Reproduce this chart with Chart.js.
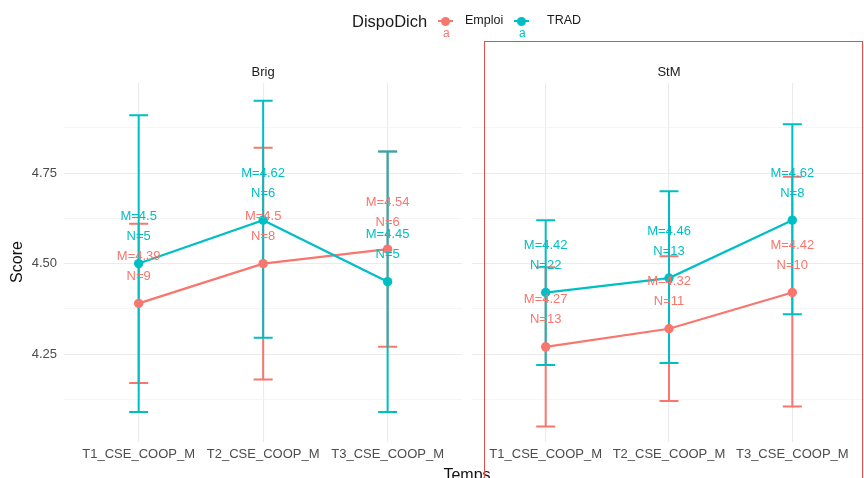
<!DOCTYPE html>
<html>
<head>
<meta charset="utf-8">
<script src="https://cdn.jsdelivr.net/npm/chart.js@4.4.0/dist/chart.umd.min.js"></script>
<style>
  html, body { margin: 0; padding: 0; width: 864px; height: 478px; overflow: hidden; background: #fff; }
  body { position: relative; font-family: "Liberation Sans", Arial, sans-serif; }
  canvas { position: absolute; top: 0; }
  .abs { position: absolute; white-space: nowrap; }
  #legendTitle { left: 352px; top: 12px; font-size: 16.5px; line-height: 18px; color: #1a1a1a; }
  .keyLine { position: absolute; height: 2px; width: 15px; top: 20px; }
  .keyDot { position: absolute; width: 9px; height: 9px; border-radius: 50%; top: 16.5px; }
  .keyA { position: absolute; top: 26px; font-size: 12px; line-height: 14px; }
  .legendText { top: 13px; font-size: 12.5px; line-height: 14px; color: #1a1a1a; }
  #xTitle { left: 417px; width: 100px; text-align: center; top: 466px; font-size: 16px; line-height: 18px; color: #111; }
  #frame { position: absolute; left: 484px; top: 41px; width: 379px; height: 460px; box-sizing: border-box; border: 1.5px solid #e3504b; }
</style>
</head>
<body>
<canvas id="brigChart" width="467" height="478" style="left:0px"></canvas>
<canvas id="stmChart" width="404" height="478" style="left:467px"></canvas>

<div id="legendTitle" class="abs">DispoDich</div>
<div class="keyLine" style="left:438px;background:#F8766D"></div>
<div class="keyDot" style="left:440.5px;background:#F8766D"></div>
<div class="keyA" style="left:443px;color:#F8766D">a</div>
<div class="abs legendText" style="left:465px">Emploi</div>
<div class="keyLine" style="left:514px;background:#00BFC4"></div>
<div class="keyDot" style="left:516.5px;background:#00BFC4"></div>
<div class="keyA" style="left:519px;color:#00BFC4">a</div>
<div class="abs legendText" style="left:547px">TRAD</div>

<div id="xTitle" class="abs">Temps</div>
<div id="frame"></div>

<script>
// Time points on the x axis and the two facet panels
const categories = ['T1_CSE_COOP_M', 'T2_CSE_COOP_M', 'T3_CSE_COOP_M'];
const panels = ['Brig', 'StM'];
const groups = ['Emploi', 'TRAD'];
const groupColors = ['#F8766D', '#00BFC4'];

// Score axis ticks (major with labels, minor grid only)
const yMajorTicks = [4.25, 4.5, 4.75];
const yTickLabels = ['4.25', '4.50', '4.75'];
const yMinorTicks = [4.125, 4.375, 4.625, 4.875];

// Brig panel: means, group sizes and error-bar limits
const brigEmploiMean = [4.39, 4.5, 4.54];
const brigEmploiN = [9, 8, 6];
const brigEmploiLow = [4.17, 4.18, 4.27];
const brigEmploiHigh = [4.61, 4.82, 4.81];
const brigTradMean = [4.5, 4.62, 4.45];
const brigTradN = [5, 6, 5];
const brigTradLow = [4.09, 4.295, 4.09];
const brigTradHigh = [4.91, 4.95, 4.81];

// StM panel
const stmEmploiMean = [4.27, 4.32, 4.42];
const stmEmploiN = [13, 11, 10];
const stmEmploiLow = [4.05, 4.12, 4.105];
const stmEmploiHigh = [4.49, 4.52, 4.74];
const stmTradMean = [4.42, 4.46, 4.62];
const stmTradN = [22, 13, 8];
const stmTradLow = [4.22, 4.225, 4.36];
const stmTradHigh = [4.62, 4.70, 4.885];

const FONT = '"Liberation Sans", Arial, sans-serif';

// Vertical error bars with caps, drawn beneath lines and points
const errorBars = {
  id: 'errorBars',
  beforeDatasetsDraw(chart) {
    const { ctx, scales: { x, y } } = chart;
    chart.data.datasets.forEach(ds => {
      ctx.save();
      ctx.strokeStyle = ds.borderColor;
      ctx.lineWidth = 2;
      ds.errLow.forEach((lo, i) => {
        const px = x.getPixelForValue(i);
        const y0 = y.getPixelForValue(lo);
        const y1 = y.getPixelForValue(ds.errHigh[i]);
        const hw = 9.5;
        ctx.beginPath();
        ctx.moveTo(px, y0); ctx.lineTo(px, y1);
        ctx.moveTo(px - hw, y0); ctx.lineTo(px + hw, y0);
        ctx.moveTo(px - hw, y1); ctx.lineTo(px + hw, y1);
        ctx.stroke();
      });
      ctx.restore();
    });
  }
};

// "M=…" / "N=…" annotations above each mean
const meanLabels = {
  id: 'meanLabels',
  afterDatasetsDraw(chart) {
    const { ctx, scales: { x, y } } = chart;
    chart.data.datasets.forEach(ds => {
      ctx.save();
      ctx.fillStyle = ds.borderColor;
      ctx.font = '13px ' + FONT;
      ctx.textAlign = 'center';
      ctx.textBaseline = 'middle';
      ds.data.forEach((pt, i) => {
        const px = x.getPixelForValue(pt.x);
        const py = y.getPixelForValue(pt.y);
        ctx.fillText('M=' + pt.y, px, py - 47);
        ctx.fillText('N=' + ds.nObs[i], px, py - 27);
      });
      ctx.restore();
    });
  }
};

// Facet strip title and (left panel only) the y-axis title
const panelTitles = {
  id: 'panelTitles',
  afterDraw(chart, args, opts) {
    const { ctx, scales: { x } } = chart;
    ctx.save();
    ctx.fillStyle = '#1a1a1a';
    ctx.font = '13px ' + FONT;
    ctx.textAlign = 'center';
    ctx.textBaseline = 'middle';
    ctx.fillText(opts.strip, x.getPixelForValue(1), 72);
    if (opts.yTitle) {
      ctx.translate(18, 262);
      ctx.rotate(-Math.PI / 2);
      ctx.font = '16px ' + FONT;
      ctx.fillStyle = '#111';
      ctx.fillText(opts.yTitle, 0, 0);
    }
    ctx.restore();
  }
};

function makeSeries(name, color, mean, n, low, high, order) {
  return {
    label: name,
    data: mean.map((v, i) => ({ x: i, y: v })),
    nObs: n, errLow: low, errHigh: high,
    borderColor: color, backgroundColor: color,
    pointBackgroundColor: color, pointBorderWidth: 0,
    pointRadius: 4.7, pointHoverRadius: 4.7,
    borderWidth: 2.2, tension: 0, clip: false, order: order
  };
}

function panelChart(canvasId, strip, series, withYAxis, padLeft, padRight) {
  return new Chart(document.getElementById(canvasId), {
    type: 'line',
    data: { datasets: series },
    options: {
      responsive: false,
      animation: false,
      events: [],
      layout: { padding: { top: 83, left: padLeft, right: padRight, bottom: 0 } },
      plugins: {
        legend: { display: false },
        tooltip: { enabled: false },
        panelTitles: { strip: strip, yTitle: withYAxis ? 'Score' : null }
      },
      scales: {
        x: {
          type: 'linear', min: -0.6, max: 2.6,
          afterBuildTicks: sc => { sc.ticks = categories.map((c, i) => ({ value: i })); },
          ticks: {
            callback: v => categories[v],
            font: { family: FONT, size: 13 }, color: '#4d4d4d',
            padding: 5, maxRotation: 0, autoSkip: false
          },
          grid: { color: '#ebebeb', lineWidth: 1.1, drawTicks: false },
          border: { display: false },
          afterFit: sc => { sc.height = 36; }
        },
        y: {
          min: 4.007, max: 4.999,
          afterBuildTicks: sc => {
            sc.ticks = yMinorTicks.concat(yMajorTicks).sort((a, b) => a - b).map(v => ({ value: v }));
          },
          ticks: {
            display: withYAxis,
            callback: v => { const k = yMajorTicks.indexOf(v); return k >= 0 ? yTickLabels[k] : ''; },
            font: { family: FONT, size: 13 }, color: '#4d4d4d', padding: 7
          },
          grid: {
            color: c => (c.tick && yMajorTicks.indexOf(c.tick.value) >= 0) ? '#ebebeb' : '#f3f3f3',
            lineWidth: c => (c.tick && yMajorTicks.indexOf(c.tick.value) >= 0) ? 1.1 : 0.8,
            drawTicks: false
          },
          border: { display: false },
          afterFit: sc => { sc.width = withYAxis ? 64 : 0; }
        }
      }
    },
    plugins: [errorBars, meanLabels, panelTitles]
  });
}

panelChart('brigChart', panels[0], [
  makeSeries(groups[0], groupColors[0], brigEmploiMean, brigEmploiN, brigEmploiLow, brigEmploiHigh, 2),
  makeSeries(groups[1], groupColors[1], brigTradMean, brigTradN, brigTradLow, brigTradHigh, 1)
], true, 0, 4);

panelChart('stmChart', panels[1], [
  makeSeries(groups[0], groupColors[0], stmEmploiMean, stmEmploiN, stmEmploiLow, stmEmploiHigh, 2),
  makeSeries(groups[1], groupColors[1], stmTradMean, stmTradN, stmTradLow, stmTradHigh, 1)
], false, 4, 3);
</script>
</body>
</html>
